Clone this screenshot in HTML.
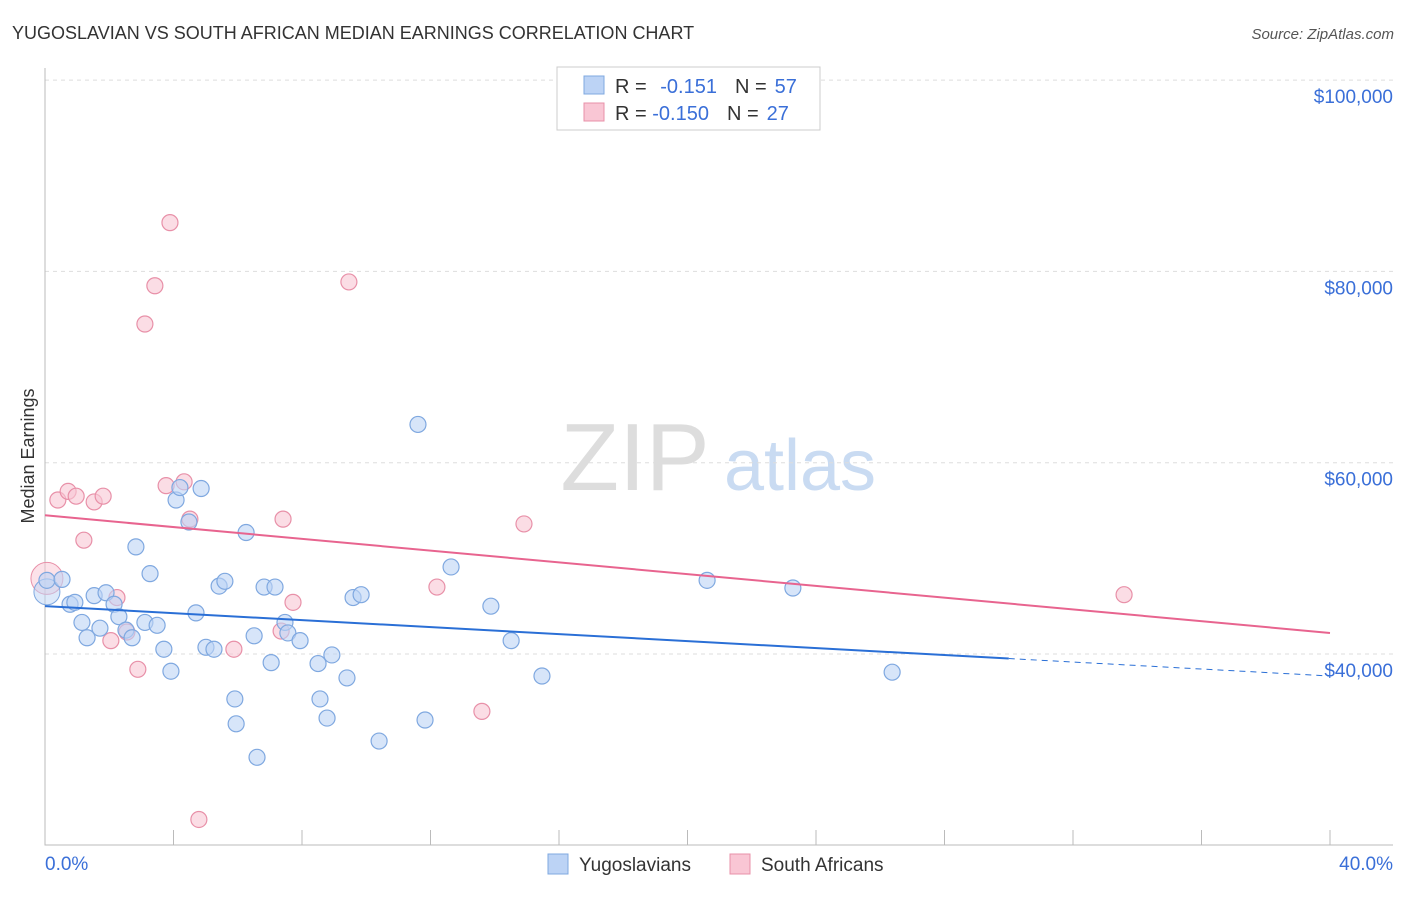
<!DOCTYPE html>
<html><head><meta charset="utf-8"><style>
body{margin:0;background:#fff;font-family:"Liberation Sans",sans-serif;}
svg text{font-family:"Liberation Sans",sans-serif;}
</style></head><body>
<svg id="chart" width="1406" height="892" viewBox="0 0 1406 892">
<text x="12" y="39" font-size="18" fill="#333">YUGOSLAVIAN VS SOUTH AFRICAN MEDIAN EARNINGS CORRELATION CHART</text>
<text x="1394" y="39" font-size="15" fill="#555" font-style="italic" text-anchor="end">Source: ZipAtlas.com</text>
<text x="34" y="456" font-size="18" fill="#333" text-anchor="middle" transform="rotate(-90 34 456)">Median Earnings</text>
<g>
<text x="635" y="490" font-size="96" fill="#ddd" font-family="Liberation Serif" text-anchor="middle">ZIP</text>
<text x="800" y="490" font-size="72" fill="#c9dbf2" text-anchor="middle">atlas</text>
</g>
<g id="grid"></g>
<g id="axes"></g>
<g id="marks"></g>
<g>
<rect x="557" y="67" width="263" height="63" fill="#fff" stroke="#ccc"/>
<rect x="584" y="76" width="20" height="18" fill="#bcd3f5" stroke="#7fa8e0"/>
<rect x="584" y="103" width="20" height="18" fill="#f9c6d4" stroke="#e890a8"/>
<text x="615" y="93" font-size="20" fill="#333">R = <tspan fill="#3a6fd8" dx="8">-0.151</tspan><tspan fill="#333" dx="18">N =</tspan><tspan fill="#3a6fd8" dx="8">57</tspan></text>
<text x="615" y="120" font-size="20" fill="#333">R = <tspan fill="#3a6fd8">-0.150</tspan><tspan fill="#333" dx="18">N =</tspan><tspan fill="#3a6fd8" dx="8">27</tspan></text>
</g>
<g>
<rect x="548" y="854" width="20" height="20" fill="#bcd3f5" stroke="#7fa8e0"/>
<text x="579" y="871" font-size="19" fill="#333">Yugoslavians</text>
<rect x="730" y="854" width="20" height="20" fill="#f9c6d4" stroke="#e890a8"/>
<text x="761" y="871" font-size="19" fill="#333">South Africans</text>
</g>
</svg>
<script>
const yTicks=[40000,60000,80000,100000];
const yTickLabels=["$40,000","$60,000","$80,000","$100,000"];
const xTickLabels=["0.0%","40.0%"];
const blueX=[0.06,0.53,0.78,0.93,1.15,1.31,1.53,1.71,1.90,2.15,2.30,2.52,2.71,2.83,3.11,3.27,3.49,3.70,3.92,4.08,4.20,4.48,4.70,4.86,5.01,5.26,5.42,5.60,5.91,5.95,6.26,6.51,6.60,6.82,7.04,7.16,7.47,7.56,7.94,8.50,8.56,8.78,8.93,9.40,9.59,9.84,10.40,11.61,11.83,12.64,13.88,14.51,15.47,20.61,23.28,26.37];
const blueY=[47.7,47.8,45.2,45.4,43.3,41.7,46.1,42.7,46.4,45.2,43.9,42.5,41.7,51.2,43.3,48.4,43.0,40.5,38.2,56.1,57.4,53.8,44.3,57.3,40.7,40.5,47.1,47.6,35.3,32.7,52.7,41.9,29.2,47.0,39.1,47.0,43.3,42.2,41.4,39.0,35.3,33.3,39.9,37.5,45.9,46.2,30.9,64.0,33.1,49.1,45.0,41.4,37.7,47.7,46.9,38.1];
const pinkX=[0.40,0.72,0.97,1.21,1.53,1.81,2.05,2.24,2.55,2.89,3.11,3.42,3.77,3.89,4.33,4.51,4.79,5.88,7.41,7.35,7.72,9.46,12.20,13.60,14.91,33.59];
const pinkY=[56.1,57.0,56.5,51.9,55.9,56.5,41.4,45.9,42.3,38.4,74.5,78.5,57.6,85.1,58.0,54.1,22.7,40.5,54.1,42.4,45.4,78.9,47.0,34.0,53.6,46.2];
const blueTrend=[45.0,37.7];
const pinkTrend=[54.5,42.2];
const NS="http://www.w3.org/2000/svg";
const X=p=>45+p*1285/40;
const Y=v=>654-(v-40000)*191.3/20000;
function mk(tag,attrs,parent){const e=document.createElementNS(NS,tag);for(const k in attrs)e.setAttribute(k,attrs[k]);document.getElementById(parent).appendChild(e);return e;}
yTicks.forEach((t,i)=>{
 const l=mk('line',{x1:45,x2:1393,y1:Y(t),y2:Y(t),stroke:'#ddd','stroke-dasharray':'4 4'},'grid');
 
 
 const tx=mk('text',{x:1393,y:Y(t)+23,'font-size':19,fill:'#3a6fd8','text-anchor':'end'},'axes');
 tx.textContent=yTickLabels[i];
 
 
});
const ax=mk('path',{d:'M45 68V845H1393',fill:'none',stroke:'#bbb'},'axes');


for(let i=0;i<=10;i++){
 const t=mk('line',{x1:X(i*4),x2:X(i*4),y1:845,y2:830,stroke:'#bbb'},'axes');
 
 
}
[[0,"start"],[40,"end"]].forEach((d,i)=>{
 const t=mk('text',{x:i?1393:45,y:870,'font-size':19,fill:'#3a6fd8','text-anchor':d[1]},'axes');
 t.textContent=xTickLabels[i];
 
 
});
function pts(xs,ys,fill,stroke,name){
 xs.forEach((x,i)=>{
  const c=mk('circle',{cx:X(x),cy:Y(ys[i]*1000),r:8,fill:fill,'fill-opacity':0.6,stroke:stroke,'stroke-width':1.2},'marks');
  
  
 });
}
const big1=mk('circle',{cx:X(0.06),cy:Y(47900),r:16,fill:'#f9c6d4','fill-opacity':0.5,stroke:'#e890a8'},'marks');


const big2=mk('circle',{cx:X(0.06),cy:Y(46500),r:13,fill:'#bcd3f5','fill-opacity':0.5,stroke:'#7fa8e0'},'marks');


pts(pinkX,pinkY,'#f9c6d4','#e890a8','pink-point');
pts(blueX,blueY,'#bcd3f5','#7fa8e0','blue-point');
const bt=v=>blueTrend[0]+(blueTrend[1]-blueTrend[0])*v/40;
const l1=mk('line',{x1:X(0),y1:Y(bt(0)*1000),x2:X(30),y2:Y(bt(30)*1000),stroke:'#2a6fd6','stroke-width':2},'marks');


const l2=mk('line',{x1:X(30),y1:Y(bt(30)*1000),x2:X(40),y2:Y(bt(40)*1000),stroke:'#2a6fd6','stroke-width':1,'stroke-dasharray':'6 5'},'marks');


const l3=mk('line',{x1:X(0),y1:Y(pinkTrend[0]*1000),x2:X(40),y2:Y(pinkTrend[1]*1000),stroke:'#e8648f','stroke-width':2},'marks');


</script>
</body></html>
